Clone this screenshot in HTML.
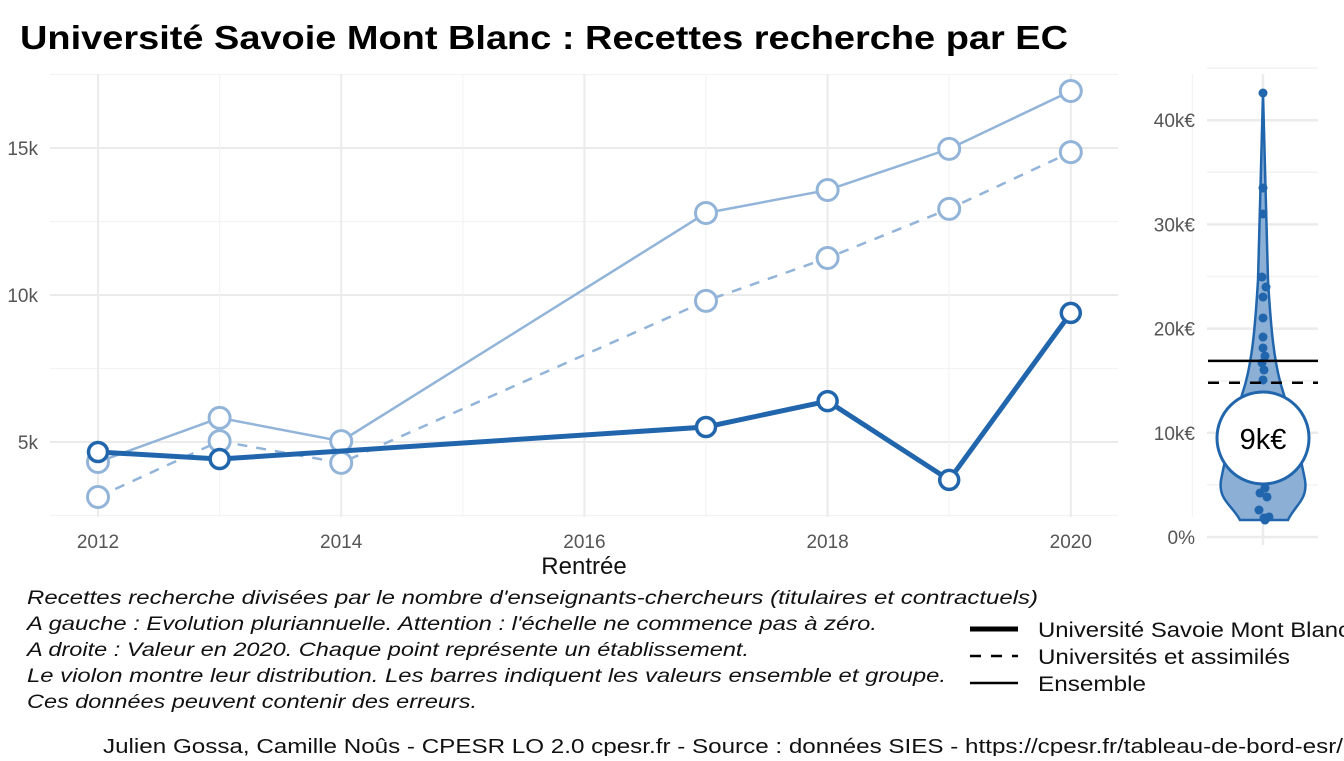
<!DOCTYPE html>
<html><head><meta charset="utf-8"><style>
body{margin:0;background:#fff}
svg text{font-family:"Liberation Sans",sans-serif}
</style></head><body>
<svg id="c" width="1344" height="756" xmlns="http://www.w3.org/2000/svg">
<text x="20" y="49" font-size="33" font-weight="bold" textLength="1048" lengthAdjust="spacingAndGlyphs">Université Savoie Mont Blanc  :  Recettes recherche par EC</text>
<g id="main"></g>
<g id="side"></g>
<text x="584" y="574" font-size="24" text-anchor="middle" fill="#111">Rentrée</text>
<g font-size="19.5" font-style="italic" fill="#111">
<text x="27" y="604" textLength="1011" lengthAdjust="spacingAndGlyphs">Recettes recherche divisées par le nombre d'enseignants-chercheurs (titulaires et contractuels)</text>
<text x="27" y="630" textLength="850" lengthAdjust="spacingAndGlyphs">A gauche : Evolution pluriannuelle. Attention : l'échelle ne commence pas à zéro.</text>
<text x="27" y="656" textLength="722" lengthAdjust="spacingAndGlyphs">A droite : Valeur en 2020. Chaque point représente un établissement.</text>
<text x="27" y="682" textLength="919" lengthAdjust="spacingAndGlyphs">Le violon montre leur distribution. Les barres indiquent les valeurs ensemble et groupe.</text>
<text x="27" y="708" textLength="450" lengthAdjust="spacingAndGlyphs">Ces données peuvent contenir des erreurs.</text>
</g>
<g font-size="21" fill="#111">
<line x1="970" y1="629" x2="1018" y2="629" stroke="#000" stroke-width="5"/>
<line x1="970" y1="656" x2="1018" y2="656" stroke="#000" stroke-width="2.5" stroke-dasharray="11,10"/>
<line x1="970" y1="683" x2="1018" y2="683" stroke="#000" stroke-width="2.5"/>
<text x="1038" y="637" textLength="312" lengthAdjust="spacingAndGlyphs">Université Savoie Mont Blanc</text>
<text x="1038" y="664" textLength="252" lengthAdjust="spacingAndGlyphs">Universités et assimilés</text>
<text x="1038" y="691" textLength="108" lengthAdjust="spacingAndGlyphs">Ensemble</text>
</g>
<text x="103" y="753" font-size="20" fill="#111" textLength="1240" lengthAdjust="spacingAndGlyphs">Julien Gossa, Camille Noûs - CPESR LO 2.0 cpesr.fr - Source : données SIES - https://cpesr.fr/tableau-de-bord-esr/</text>
</svg>
<script>
const years=[2012,2013,2014,2017,2018,2019,2020];
const usmb=[4660,4420,null,5510,6390,3710,9390];
const univ=[3130,5030,4290,9800,11260,12930,14860];
const ens=[4320,5820,5030,12790,13570,14970,16940];
const yTicks=[5000,10000,15000];
const yTickLabels=["5k","10k","15k"];
const xTicks=[2012,2014,2016,2018,2020];
const pts2020=[42610,33490,31000,24950,23990,23030,21020,19190,18140,17370,16700,16030,15070,4700,4220,3840,2590,1820,1630,1920];
const ensVal=16900, univVal=14800, usmbVal=9390;
const sideTicks=[0,10000,20000,30000,40000];
const sideLabels=["0%","10k€","20k€","30k€","40k€"];

const NS="http://www.w3.org/2000/svg";
function mk(p,t,a){const e=document.createElementNS(NS,t);for(const k in a)e.setAttribute(k,a[k]);p.appendChild(e);return e;}
const X=y=>98+(y-2012)*121.6;
const Y=v=>442-(v-5000)*147/5000;
const main=document.getElementById('main');
for(let v=2500;v<=17500;v+=2500){const major=v%5000===0;const l=mk(main,'line',{x1:50,x2:1118,y1:Y(v),y2:Y(v),stroke:major?'#ebebeb':'#f3f3f3','stroke-width':major?2:1.2});

}
for(let yr=2011;yr<=2021;yr++){const major=yr%2===0;const l=mk(main,'line',{x1:X(yr),x2:X(yr),y1:74,y2:517,stroke:major?'#ebebeb':'#f3f3f3','stroke-width':major?2:1.2});

}
yTicks.forEach((v,i)=>{const t=mk(main,'text',{x:38,y:Y(v)+7,'font-size':19,'text-anchor':'end',fill:'#555'});t.textContent=yTickLabels[i];

});
xTicks.forEach(yr=>{const t=mk(main,'text',{x:X(yr),y:548,'font-size':19,'text-anchor':'middle',fill:'#555'});t.textContent=yr;

});
function series(vals,name,color,w,dash,r,sw){
 const g=mk(main,'g',{});
 
 
 let d='';vals.forEach((v,i)=>{if(v==null)return;d+=(d?'L':'M')+X(years[i])+','+Y(v);});
 const a={d:d,fill:'none',stroke:color,'stroke-width':w};if(dash)a['stroke-dasharray']=dash;mk(g,'path',a);
 vals.forEach((v,i)=>{if(v==null)return;const c=mk(g,'circle',{cx:X(years[i]),cy:Y(v),r:r,fill:'#fff',stroke:color,'stroke-width':sw});
 
 });
}
series(ens,'ensemble-line','#92b4d9',2.5,null,10.5,3);
series(univ,'universites-line','#92b4d9',2.5,'10,9',10.5,3);
series(usmb,'usmb-line','#2166ac',5,null,9.5,3.5);
const side=document.getElementById('side');
const S=v=>537-v*104.2/10000;
for(let v=0;v<=45000;v+=5000){const major=v%10000===0;const l=mk(side,'line',{x1:1207,x2:1318,y1:S(v),y2:S(v),stroke:major?'#ebebeb':'#f3f3f3','stroke-width':major?2.5:1.5});

}
mk(side,'line',{x1:1263,x2:1263,y1:74,y2:545,stroke:'#ebebeb','stroke-width':2.5});
sideTicks.forEach((v,i)=>{const t=mk(side,'text',{x:1195,y:S(v)+7,'font-size':19,'text-anchor':'end',fill:'#555'});t.textContent=sideLabels[i];

});
const vio=mk(side,'path',{d:'M1263,93 C1265,150 1266,220 1268,280 C1271,330 1274,360 1281,385 C1292,420 1300,455 1305,480 C1308,500 1295,505 1288,520 L1240,520 C1232,505 1218,500 1221,480 C1226,455 1234,420 1245,385 C1252,360 1255,330 1258,280 C1260,220 1261,150 1263,93 Z',fill:'#8cafd6',stroke:'#2166ac','stroke-width':2.5});


const ex=[0,0,0,-1,3,0,0,0,0,2,-1,1,0,2,-3,4,-4,1,2,6];
pts2020.forEach((v,i)=>{const c=mk(side,'circle',{cx:1263+(ex[i]||0),cy:S(v),r:4.5,fill:'#2166ac'});

});
const le=mk(side,'line',{x1:1208,x2:1318,y1:S(ensVal),y2:S(ensVal),stroke:'#000','stroke-width':2.5});


const lu=mk(side,'line',{x1:1208,x2:1318,y1:S(univVal),y2:S(univVal),stroke:'#000','stroke-width':2.5,'stroke-dasharray':'11,10'});


const bc=mk(side,'circle',{cx:1263,cy:438,r:46,fill:'#fff',stroke:'#2166ac','stroke-width':3});


const bt=mk(side,'text',{x:1263,y:449,'font-size':29,'text-anchor':'middle',fill:'#000'});
bt.textContent=Math.round(usmbVal/1000)+'k€';


</script>
</body></html>
